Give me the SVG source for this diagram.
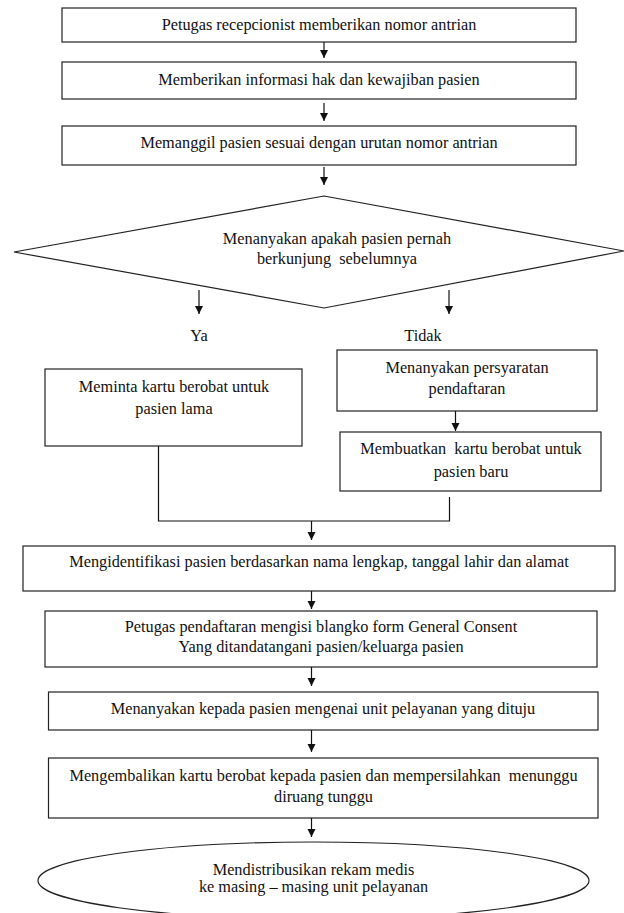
<svg xmlns="http://www.w3.org/2000/svg" width="624" height="913" viewBox="0 0 624 913">
<style>
.box{fill:#fff;stroke:#222;stroke-width:1.2}
.t{font-family:"Liberation Serif","Times New Roman",serif;font-size:16.3px;fill:#111;text-anchor:middle;white-space:pre}
.c{fill:none;stroke:#111;stroke-width:1.2}
.a{fill:none;stroke:#111;stroke-width:1.2;marker-end:url(#ah)}
</style>
<defs>
<marker id="ah" markerUnits="userSpaceOnUse" markerWidth="9" markerHeight="9" refX="8" refY="4.5" orient="auto">
<path d="M0,0.5 L8,4.5 L0,8.5 z" fill="#111"/>
</marker>
</defs>
<rect width="624" height="913" fill="#fff"/>
<g id="n1"><rect class="box" x="62" y="8" width="514" height="34"/><text class="t" x="319" y="29.5">Petugas recepcionist memberikan nomor antrian</text></g>
<g id="n2"><rect class="box" x="62" y="62" width="514" height="37"/><text class="t" x="319" y="84.5">Memberikan informasi hak dan kewajiban pasien</text></g>
<g id="n3"><rect class="box" x="62" y="126" width="514" height="39"/><text class="t" x="319" y="147.5">Memanggil pasien sesuai dengan urutan nomor antrian</text></g>
<g id="n4"><polygon class="box" points="324,196 624,251 324,308 14,252"/><text class="t" x="337" y="243.5">Menanyakan apakah pasien pernah</text><text class="t" x="337" y="264" xml:space="preserve">berkunjung  sebelumnya</text></g>
<g id="lya"><text class="t" x="199" y="340.5">Ya</text></g>
<g id="ltidak"><text class="t" x="423" y="340.5">Tidak</text></g>
<g id="n5"><rect class="box" x="45" y="369" width="257" height="77"/><text class="t" x="174" y="391.5">Meminta kartu berobat untuk</text><text class="t" x="174" y="414">pasien lama</text></g>
<g id="n6"><rect class="box" x="337" y="350" width="260" height="61"/><text class="t" x="467" y="373">Menanyakan persyaratan</text><text class="t" x="467" y="393.5">pendaftaran</text></g>
<g id="n7"><rect class="box" x="340" y="432" width="261" height="59"/><text class="t" x="471" y="454" xml:space="preserve">Membuatkan  kartu berobat untuk</text><text class="t" x="471" y="476.5">pasien baru</text></g>
<g id="n8"><rect class="box" x="23" y="546" width="592" height="45"/><text class="t" x="319" y="567">Mengidentifikasi pasien berdasarkan nama lengkap, tanggal lahir dan alamat</text></g>
<g id="n9"><rect class="box" x="45" y="611" width="552" height="56"/><text class="t" x="321" y="632">Petugas pendaftaran mengisi blangko form General Consent</text><text class="t" x="321" y="652">Yang ditandatangani pasien/keluarga pasien</text></g>
<g id="n10"><rect class="box" x="48.5" y="692" width="549.5" height="38"/><text class="t" x="323" y="714">Menanyakan kepada pasien mengenai unit pelayanan yang dituju</text></g>
<g id="n11"><rect class="box" x="48.5" y="758" width="549.5" height="60"/><text class="t" x="323.5" y="780.5" xml:space="preserve">Mengembalikan kartu berobat kepada pasien dan mempersilahkan  menunggu</text><text class="t" x="323.5" y="802">diruang tunggu</text></g>
<g id="n12"><ellipse class="box" cx="313.5" cy="880.5" rx="275.5" ry="38.5"/><text class="t" x="313.5" y="874.5">Mendistribusikan rekam medis</text><text class="t" x="313.5" y="892">ke masing – masing unit pelayanan</text></g>
<g id="connectors">
<line class="a" x1="324" y1="42" x2="324" y2="58"/>
<line class="a" x1="324" y1="103" x2="324" y2="121"/>
<line class="a" x1="324" y1="167" x2="324" y2="185"/>
<line class="a" x1="199" y1="290" x2="199" y2="314"/>
<line class="a" x1="449" y1="290" x2="449" y2="314"/>
<line class="a" x1="455.5" y1="411" x2="455.5" y2="431"/>
<polyline class="c" points="158.5,446 158.5,521 449.5,521 449.5,497"/>
<line class="a" x1="311.5" y1="521" x2="311.5" y2="540"/>
<line class="a" x1="311.5" y1="591" x2="311.5" y2="609"/>
<line class="a" x1="311.5" y1="667" x2="311.5" y2="686"/>
<line class="a" x1="311.5" y1="730" x2="311.5" y2="752"/>
<line class="a" x1="311.5" y1="818" x2="311.5" y2="837"/>
</g>
</svg>
